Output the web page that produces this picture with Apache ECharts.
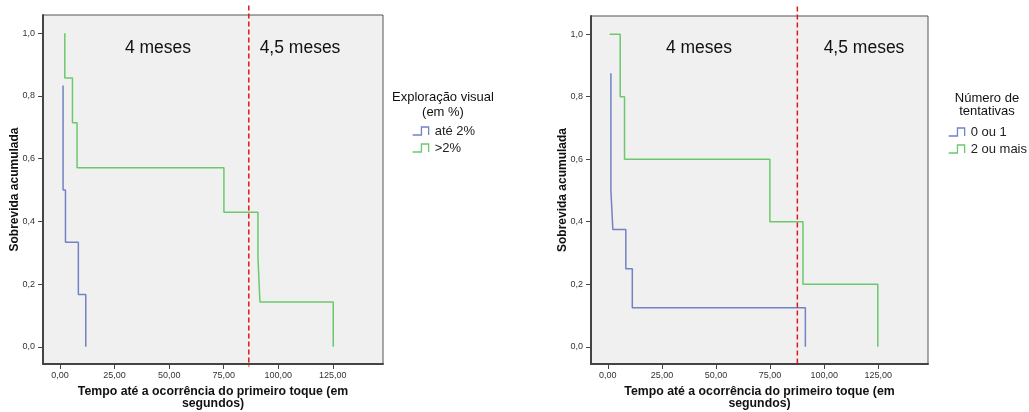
<!DOCTYPE html>
<html>
<head>
<meta charset="utf-8">
<script src="https://cdn.jsdelivr.net/npm/echarts@6/dist/echarts.min.js"></script>
<style>
  html, body { margin: 0; padding: 0; background: #fff; }
  #main { width: 1029px; height: 412px; }
</style>
</head>
<body>
<div id="main"></div>
<script>
// eixos
var xTicks = [0, 25, 50, 75, 100, 125];
var yTicks = [0, 0.2, 0.4, 0.6, 0.8, 1.0];

// grafico 1 - Exploracao visual (em %)
var esqAteT = [1.4, 1.4, 1.4, 2.5, 8.4, 11.8];
var esqAteS = [0.833, 0.667, 0.5, 0.333, 0.167, 0];
var esqMaisT = [2.2, 2.2, 5.7, 7.8, 75.1, 90.7, 91.6, 125.2];
var esqMaisS = [1.0, 0.857, 0.714, 0.571, 0.429, 0.286, 0.143, 0];
var esqCorte = 86.5;

// grafico 2 - Numero de tentativas
var dirZeroT = [1.4, 1.4, 1.4, 1.4, 2.3, 8.3, 11.3, 91.3];
var dirZeroS = [0.875, 0.75, 0.625, 0.5, 0.375, 0.25, 0.125, 0];
var dirDoisT = [0.8, 5.7, 7.7, 74.9, 90.2, 124.8];
var dirDoisS = [1.0, 0.8, 0.6, 0.4, 0.2, 0];
var dirCorte = 87.6;

var azul = '#7282c4';
var verde = '#6cc86c';
var vermelho = '#e01818';
var fonte = '"Liberation Sans", Arial, sans-serif';

function pares(t, s) {
    return t.map(function (v, i) { return [v, s[i]]; });
}

var chart = echarts.init(document.getElementById('main'));

function eixoX(idx) {
    return {
        type: 'value', gridIndex: idx, min: -7.8, max: 148,
        name: 'Tempo até a ocorrência do primeiro toque (em\nsegundos)',
        nameLocation: 'middle', nameGap: 22, nameMoveOverlap: false,
        nameTextStyle: { fontFamily: fonte, fontWeight: 'bold', fontSize: 12.3, color: '#111', lineHeight: 12 },
        axisLine: { show: true, onZero: false, lineStyle: { color: '#444', width: 2 } },
        axisTick: { show: true, length: 5, customValues: xTicks, lineStyle: { color: '#444' } },
        axisLabel: {
            customValues: xTicks, margin: 7, fontSize: 9, fontFamily: fonte, color: '#333',
            formatter: function (v) { return v.toFixed(2).replace('.', ','); }
        },
        splitLine: { show: false }
    };
}

function eixoY(idx) {
    return {
        type: 'value', gridIndex: idx, min: -0.055, max: 1.058,
        name: 'Sobrevida acumulada',
        nameLocation: 'middle', nameGap: 22, nameMoveOverlap: false,
        nameTextStyle: { fontFamily: fonte, fontWeight: 'bold', fontSize: 12, color: '#111' },
        axisLine: { show: true, onZero: false, lineStyle: { color: '#444', width: 2 } },
        axisTick: { show: true, length: 5, customValues: yTicks, lineStyle: { color: '#444' } },
        axisLabel: {
            customValues: yTicks, margin: 8, fontSize: 9, fontFamily: fonte, color: '#333',
            formatter: function (v) { return v.toFixed(1).replace('.', ','); }
        },
        splitLine: { show: false }
    };
}

function curva(nome, idx, t, s, cor) {
    return {
        name: nome, type: 'line', xAxisIndex: idx, yAxisIndex: idx,
        step: 'end', symbol: 'none', silent: true, animation: false,
        lineStyle: { color: cor, width: 1.5 }, itemStyle: { color: cor },
        data: pares(t, s)
    };
}

function corte(idx, x) {
    return {
        name: 'corte' + idx, type: 'line', xAxisIndex: idx, yAxisIndex: idx,
        symbol: 'none', silent: true, clip: false, animation: false,
        lineStyle: { color: vermelho, width: 1.5, type: [5, 3] },
        data: [[x, 1.088], [x, -0.063]]
    };
}

var icone = 'path://M0,10 L11,10 L11,0 L20,0 L20,10';

function itemLegenda(nome, cor) {
    return { name: nome, itemStyle: { color: 'rgba(0,0,0,0)', borderColor: cor, borderWidth: 1.3 } };
}

function legenda(x, top, itens) {
    return {
        orient: 'vertical', left: x, top: top, padding: 0,
        itemWidth: 18, itemHeight: 8, itemGap: 3, icon: icone,
        selectedMode: false,
        textStyle: { fontFamily: fonte, fontSize: 13, color: '#222', lineHeight: 14 },
        data: itens
    };
}

function texto(x, y, s, tam, lh) {
    return {
        type: 'text', x: x, y: y, silent: true,
        style: {
            text: s, font: tam + 'px ' + fonte, fill: '#111',
            align: 'center', verticalAlign: 'middle',
            textAlign: 'center', textVerticalAlign: 'middle',
            lineHeight: lh || tam
        }
    };
}

var caixa = { show: true, backgroundColor: '#f0f0f0', borderColor: '#555', borderWidth: 1, outerBoundsMode: 'none', containLabel: false };

chart.setOption({
    animation: false,
    grid: [
        Object.assign({ left: 43, top: 15, width: 340, height: 349 }, caixa),
        Object.assign({ left: 591, top: 16, width: 337, height: 348 }, caixa)
    ],
    xAxis: [eixoX(0), eixoX(1)],
    yAxis: [eixoY(0), eixoY(1)],
    legend: [
        legenda(412, 124, [itemLegenda('até 2%', azul), itemLegenda('>2%', verde)]),
        legenda(948, 125, [itemLegenda('0 ou 1', azul), itemLegenda('2 ou mais', verde)])
    ],
    graphic: [
        texto(158, 48, '4 meses', 17.5),
        texto(300, 48, '4,5 meses', 17.5),
        texto(699, 48, '4 meses', 17.5),
        texto(864, 48, '4,5 meses', 17.5),
        texto(443, 104.5, 'Exploração visual\n(em %)', 13, 15),
        texto(987, 104.5, 'Número de\ntentativas', 13, 13)
    ],
    series: [
        curva('até 2%', 0, esqAteT, esqAteS, azul),
        curva('>2%', 0, esqMaisT, esqMaisS, verde),
        corte(0, esqCorte),
        curva('0 ou 1', 1, dirZeroT, dirZeroS, azul),
        curva('2 ou mais', 1, dirDoisT, dirDoisS, verde),
        corte(1, dirCorte)
    ]
});
</script>
</body>
</html>
